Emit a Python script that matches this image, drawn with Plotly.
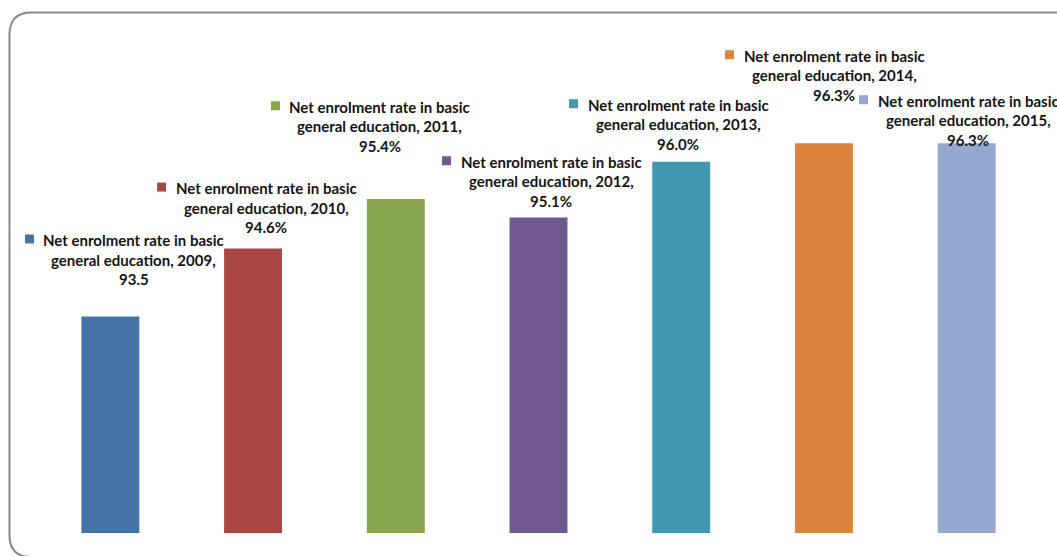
import plotly.graph_objects as go

# Net enrolment rate in basic general education, by year
years = ["2009", "2010", "2011", "2012", "2013", "2014", "2015"]
rates = [93.5, 94.6, 95.4, 95.1, 96.0, 96.3, 96.3]
value_labels = ["93.5", "94.6%", "95.4%", "95.1%", "96.0%", "96.3%", "96.3%"]
colors = ["#4572A7", "#AA4643", "#89A54E", "#71588F", "#4198AF", "#DB843D", "#93A9CF"]
series_name = "Net enrolment rate in basic"

# Label placement: horizontal offset from bar centre and height of the
# first text baseline above the bar top (pixels)
label_dx = [23.6, 13, -15.8, 12.5, -3.2, 10.1, 1.4]
label_dy = [71.5, 55.4, 87.2, 50.8, 52.1, 82.6, 37.6]

W, H = 1057, 556
M = dict(l=39, r=19, t=100, b=23)
PW = W - M["l"] - M["r"]
PH = H - M["t"] - M["b"]
Y_RANGE = [90, 97]

FONT = "Lato"
FS = 15
LINE = 19.5
FIRST_LINE_W = 182

fig = go.Figure(
    go.Bar(
        x=years,
        y=rates,
        marker=dict(color=colors, line=dict(width=0)),
        hoverinfo="x+y",
    )
)

n = len(years)
annotations = []
shapes = []
for idx, (yr, val, lab, col, dx, dy) in enumerate(
        zip(years, rates, value_labels, colors, label_dx, label_dy)):
    lines = [series_name, f"general education, {yr},", lab]
    for i, txt in enumerate(lines):
        base = dy - i * LINE  # baseline height above bar top
        annotations.append(dict(
            x=idx, y=val, xref="x", yref="y",
            text=f"<b>{txt}</b>", showarrow=False,
            xanchor="center", yanchor="middle",
            xshift=dx, yshift=base + 5,
            font=dict(family=FONT, size=FS, color="#141414"),
        ))
    # legend key square before the first line (paper-anchored so it is
    # not clipped when it sits outside the plotting area)
    left = dx - FIRST_LINE_W / 2
    shapes.append(dict(
        type="rect", xref="paper", yref="paper",
        xsizemode="pixel", ysizemode="pixel",
        xanchor=(idx + 0.5) / n,
        yanchor=(val - Y_RANGE[0]) / (Y_RANGE[1] - Y_RANGE[0]),
        x0=left - 18, x1=left - 9,
        y0=dy + 1.5, y1=dy + 10.5,
        fillcolor=col, line=dict(width=0),
    ))


def px(x):
    return (x - M["l"]) / PW


def py(y):
    return (H - M["b"] - y) / PH


# rounded chart frame
L, T, R, B, r = 9.5, 12.5, 1090, 557, 22
path = (
    f"M {px(L)},{py(B - r)} L {px(L)},{py(T + r)} "
    f"Q {px(L)},{py(T)} {px(L + r)},{py(T)} "
    f"L {px(R - r)},{py(T)} Q {px(R)},{py(T)} {px(R)},{py(T + r)} "
    f"L {px(R)},{py(B - r)} Q {px(R)},{py(B)} {px(R - r)},{py(B)} "
    f"L {px(L + r)},{py(B)} Q {px(L)},{py(B)} {px(L)},{py(B - r)} Z"
)
shapes.append(dict(
    type="path", xref="paper", yref="paper", path=path,
    line=dict(color="#878787", width=2), fillcolor="rgba(0,0,0,0)",
    layer="above",
))

fig.update_layout(
    width=W, height=H, margin=M,
    paper_bgcolor="white", plot_bgcolor="white",
    showlegend=False,
    bargap=0.594,
    xaxis=dict(visible=False, type="category", range=[-0.5, n - 0.5]),
    yaxis=dict(visible=False, range=Y_RANGE),
    annotations=annotations,
    shapes=shapes,
)

fig.write_html("out.html")
